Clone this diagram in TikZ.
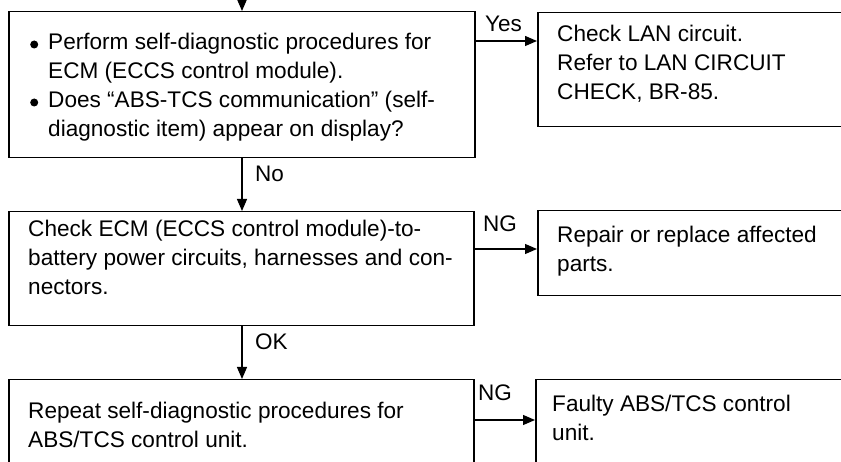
\documentclass[tikz,border=0pt]{standalone}
\usepackage{fontspec}
\setmainfont{Liberation Sans}
\usetikzlibrary{arrows.meta}
\tikzset{
  x=1pt, y=-1pt,
  box/.style={draw, line width=1.5pt, rectangle, anchor=north west, inner sep=0pt},
  txt/.style={anchor=base west, align=left, inner sep=0pt, font=\fontsize{22.6pt}{29pt}\selectfont},
  lbl/.style={anchor=base west, inner sep=0pt, font=\fontsize{22.5pt}{25pt}\selectfont},
  arr/.style={line width=1.3pt, -{Triangle[length=12pt,width=10pt]}}
}
\newcommand{\bul}{\makebox[0pt][r]{\raisebox{1.5pt}{\tikz\fill (0,0) circle[radius=4pt];}\hspace{10pt}}}
\begin{document}
\begin{tikzpicture}
\useasboundingbox (0,0) rectangle (841,462);
\clip (0,0) rectangle (841,462);
% boxes
\node[box, minimum width=466pt, minimum height=146pt] (b1) at (8,11) {};
\node[box, minimum width=320pt, minimum height=114pt] (r1) at (537,12) {};
\node[box, minimum width=465pt, minimum height=114pt] (b2) at (8,211) {};
\node[box, minimum width=320pt, minimum height=85pt] (r2) at (537,210) {};
\node[box, minimum width=465pt, minimum height=100pt] (b3) at (8,379) {};
\node[box, minimum width=320pt, minimum height=100pt] (r3) at (535,379) {};
% texts (anchored at the baseline of the last line)
\node[txt] (t1) at (48,137) {\bul Perform self-diagnostic procedures for\\ECM (ECCS control module).\\\bul Does “ABS-TCS communication” (self-\\diagnostic item) appear on display?};
\node[txt] (tr1) at (557,100) {Check LAN circuit.\\Refer to LAN CIRCUIT\\CHECK, BR-85.};
\node[txt] (t2) at (28,295) {Check ECM (ECCS control module)-to-\\battery power circuits, harnesses and con-\\nectors.};
\node[txt] (tr2) at (557,272) {Repair or replace affected\\parts.};
\node[txt] (t3) at (28,447) {Repeat self-diagnostic procedures for\\ABS/TCS control unit.};
\node[txt] (tr3) at (552,440) {Faulty ABS/TCS control\\unit.};
% connectors
\coordinate (top) at (242,0);
\coordinate (yy) at (0,41);
\coordinate (ng1) at (0,249);
\coordinate (ng2) at (0,420);
\draw[arr] (top) -- (top |- b1.north);
\draw[arr] (b1.east |- yy) -- (r1.west |- yy);
\draw[arr] (top |- b1.south) -- (top |- b2.north);
\draw[arr] (b2.east |- ng1) -- (r2.west |- ng1);
\draw[arr] (top |- b2.south) -- (top |- b3.north);
\draw[arr] (b3.east |- ng2) -- (r3.west |- ng2);
% labels
\node[lbl] (lyes) at (485,32) {Yes};
\node[lbl] (lno) at (255,182) {No};
\node[lbl] (lng1) at (483,232) {NG};
\node[lbl] (lok) at (255,350) {OK};
\node[lbl] (lng2) at (478,400) {NG};
\end{tikzpicture}
\end{document}
